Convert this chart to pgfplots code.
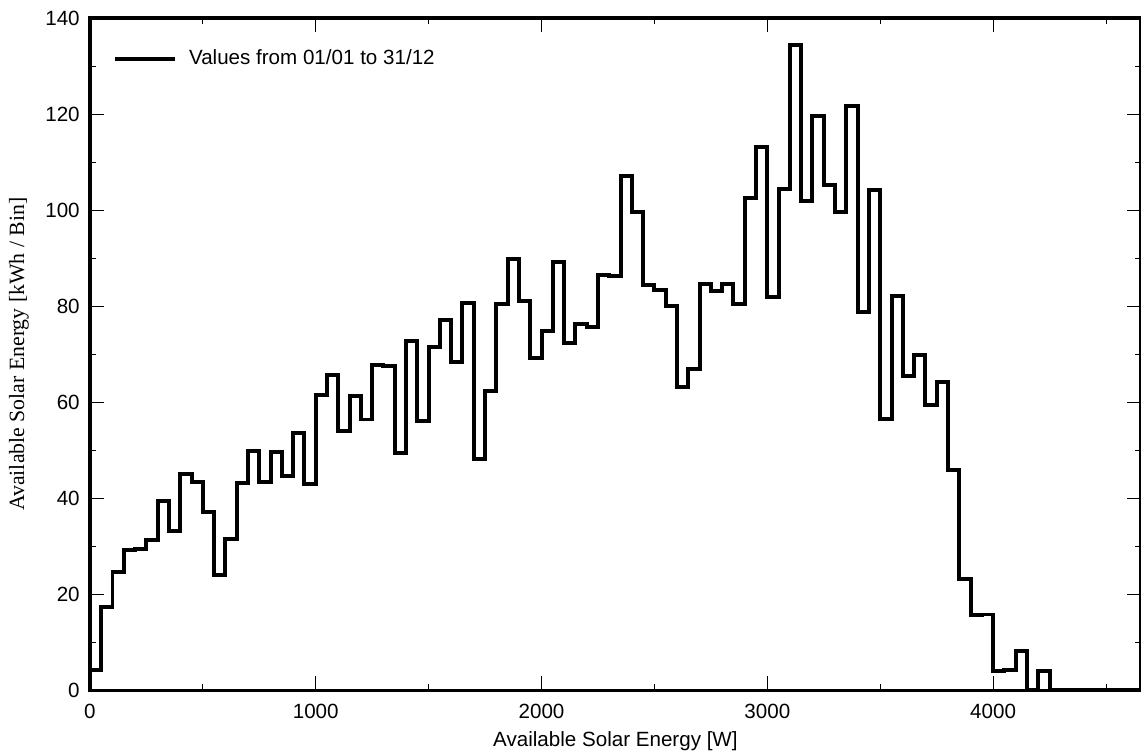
\documentclass[border=0pt]{standalone}
\usepackage{fontspec}
\setmainfont{Liberation Sans}
\newfontfamily\timesfont{Liberation Serif}
\usepackage{pgfplots}
\pgfplotsset{compat=1.18}
\begin{document}
\fontsize{10.3}{12.4}\selectfont
\begin{tikzpicture}[trim axis right]
\begin{axis}[
  width=526pt, height=336.5pt, scale only axis,
  xmin=0, xmax=4655, ymin=0, ymax=140,
  axis line style={line width=1.6pt},
  xtick={0,1000,...,4000}, minor xtick={500,1500,...,4500},
  ytick={0,20,...,140}, minor ytick={10,30,...,130},
  tick align=inside, tick pos=both,
  major tick length=7pt, minor tick length=3pt,
  every tick/.style={black, line width=0.5pt},
  xticklabel shift=3pt,
  yticklabel shift=1.5pt,
  /pgf/number format/assume math mode=true,
  /pgf/number format/1000 sep={},
  xlabel={Available Solar Energy [W]},
  xlabel style={inner sep=1pt},
  xlabel shift=2pt,
  ylabel={\timesfont\fontsize{10.9}{13}\selectfont Available Solar Energy [kWh / Bin]},
  ylabel shift=1.2pt,
  legend style={draw=none, fill=none, at={(0.016,0.965)}, anchor=north west},
  legend cell align=left,
  legend image code/.code={\draw[line width=2pt] (0pt,0pt) -- (30pt,0pt); \path (34pt,0pt);},
]
\addplot[const plot, black, line width=2pt, line join=miter] coordinates {
(0,4.2) (50,17.4) (100,24.7) (150,29.3) (200,29.4) (250,31.4) (300,39.4) (350,33.1)
(400,45.1) (450,43.4) (500,37.2) (550,24.1) (600,31.6) (650,43.2) (700,49.9) (750,43.3)
(800,49.6) (850,44.6) (900,53.6) (950,42.9) (1000,61.4) (1050,65.6) (1100,54.1) (1150,61.2)
(1200,56.4) (1250,67.7) (1300,67.5) (1350,49.4) (1400,72.7) (1450,56.0) (1500,71.5) (1550,77.2)
(1600,68.3) (1650,80.7) (1700,48.2) (1750,62.3) (1800,80.5) (1850,89.9) (1900,81.0) (1950,69.2)
(2000,74.9) (2050,89.2) (2100,72.3) (2150,76.2) (2200,75.7) (2250,86.5) (2300,86.3) (2350,107.0)
(2400,99.6) (2450,84.3) (2500,83.3) (2550,80.0) (2600,63.1) (2650,66.9) (2700,84.6) (2750,83.2)
(2800,84.6) (2850,80.5) (2900,102.5) (2950,113.2) (3000,81.9) (3050,104.4) (3100,134.4) (3150,101.8)
(3200,119.5) (3250,105.3) (3300,99.7) (3350,121.6) (3400,78.8) (3450,104.2) (3500,56.5) (3550,82.2)
(3600,65.4) (3650,69.9) (3700,59.5) (3750,64.2) (3800,45.8) (3850,23.1) (3900,15.6) (3950,15.8)
(4000,4.0) (4050,4.2) (4100,8.2) (4150,0) (4200,4.1) (4250,0) (4655,0)
};
\addlegendentry{Values from 01/01 to 31/12}
\end{axis}
\path ([yshift=9pt]current axis.north west);
\path ([xshift=-45pt]current axis.west);
\end{tikzpicture}
\end{document}
